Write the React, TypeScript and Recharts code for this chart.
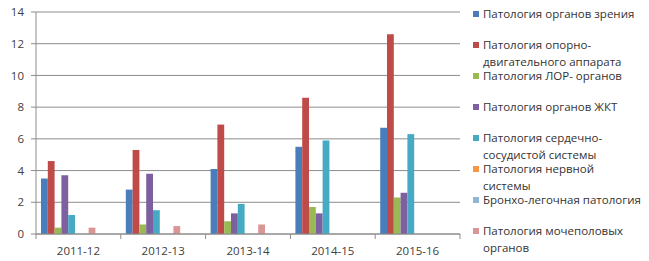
import { BarChart, Bar, XAxis, YAxis, CartesianGrid } from "recharts"

const categories = ["2011-12", "2012-13", "2013-14", "2014-15", "2015-16"]
const zrenie = [3.5, 2.8, 4.1, 5.5, 6.7]
const oporno = [4.6, 5.3, 6.9, 8.6, 12.6]
const lor = [0.4, 0.6, 0.8, 1.7, 2.3]
const zkt = [3.7, 3.8, 1.3, 1.3, 2.6]
const serdce = [1.2, 1.5, 1.9, 5.9, 6.3]
const nervn = [0, 0, 0, 0, 0]
const bronho = [0, 0, 0, 0, 0]
const mochepol = [0.4, 0.5, 0.6, 0, 0]
const yTicks = [0, 2, 4, 6, 8, 10, 12, 14]

const series = [
  { key: "zrenie", values: zrenie, color: "#4a7ebb", lines: ["Патология органов зрения"] },
  { key: "oporno", values: oporno, color: "#be4b48", lines: ["Патология опорно-", "двигательного аппарата"] },
  { key: "lor", values: lor, color: "#98b954", lines: ["Патология ЛОР- органов"] },
  { key: "zkt", values: zkt, color: "#7d60a0", lines: ["Патология органов ЖКТ"] },
  { key: "serdce", values: serdce, color: "#46aac5", lines: ["Патология сердечно-", "сосудистой системы"] },
  { key: "nervn", values: nervn, color: "#f79646", lines: ["Патология нервной", "системы"] },
  { key: "bronho", values: bronho, color: "#95b3d7", lines: ["Бронхо-легочная патология"] },
  { key: "mochepol", values: mochepol, color: "#d99694", lines: ["Патология мочеполовых", "органов"] },
]

// the source chart leaves room for 3 more (empty) slots per group
const emptySlots = ["slot9", "slot10", "slot11"]

const data = categories.map((c, i) => {
  const row: Record<string, string | number> = { period: c }
  series.forEach((s) => (row[s.key] = s.values[i]))
  return row
})

const PLOT_LEFT = 36
const PLOT_RIGHT = 460
const PLOT_BOTTOM = 234
const HALF_BAND = (PLOT_RIGHT - PLOT_LEFT) / categories.length / 2
const FONT = "'Open Sans', sans-serif"
const GRID = "#8c8c8c"

function PeriodTick(props: any) {
  const { x, payload, index } = props
  const isLast = index === categories.length - 1
  return (
    <g>
      <line x1={x - HALF_BAND} x2={x - HALF_BAND} y1={PLOT_BOTTOM} y2={PLOT_BOTTOM + 5} stroke={GRID} />
      {isLast && (
        <line x1={x + HALF_BAND} x2={x + HALF_BAND} y1={PLOT_BOTTOM} y2={PLOT_BOTTOM + 5} stroke={GRID} />
      )}
      <text x={x} y={PLOT_BOTTOM + 17} dy="0.355em" textAnchor="middle" fontSize={11.5} fill="#404040" fontFamily={FONT}>
        {payload.value}
      </text>
    </g>
  )
}

export default function App() {
  return (
    <div style={{ position: "absolute", left: 0, top: 0, width: 649, height: 261, background: "#fff" }}>
      <BarChart
        width={649}
        height={261}
        data={data}
        margin={{ top: 12, right: 649 - PLOT_RIGHT, left: 6, bottom: 0 }}
        barGap={0}
        barSize={6.8}
      >
        <CartesianGrid vertical={false} stroke={GRID} />
        <XAxis
          dataKey="period"
          height={27}
          axisLine={{ stroke: GRID }}
          tickLine={false}
          tickSize={0}
          tickMargin={0}
          interval={0}
          tick={<PeriodTick />}
        />
        <YAxis
          width={30}
          domain={[0, 14]}
          ticks={yTicks}
          interval={0}
          axisLine={{ stroke: GRID }}
          tickLine={{ stroke: GRID }}
          tickSize={5}
          tickMargin={7}
          tick={{ fontSize: 11.5, fill: "#404040", fontFamily: FONT }}
        />
        {series.map((s) => (
          <Bar key={s.key} dataKey={s.key} fill={s.color} isAnimationActive={false} />
        ))}
        {emptySlots.map((k) => (
          <Bar key={k} dataKey={k} fill="none" legendType="none" isAnimationActive={false} />
        ))}
      </BarChart>
      <div style={{ position: "absolute", left: 472, top: 0, fontFamily: FONT, fontSize: 11.5, color: "#333" }}>
        {series.map((s, i) => (
          <div key={s.key} style={{ position: "absolute", top: 14 + 31 * i - 8, left: 0, whiteSpace: "nowrap", lineHeight: "16.5px" }}>
            <span style={{ position: "absolute", left: 1, top: 5, width: 6, height: 6, background: s.color }} />
            {s.lines.map((l, j) => (
              <div key={j} style={{ paddingLeft: 11 }}>
                {l}
              </div>
            ))}
          </div>
        ))}
      </div>
    </div>
  )
}
